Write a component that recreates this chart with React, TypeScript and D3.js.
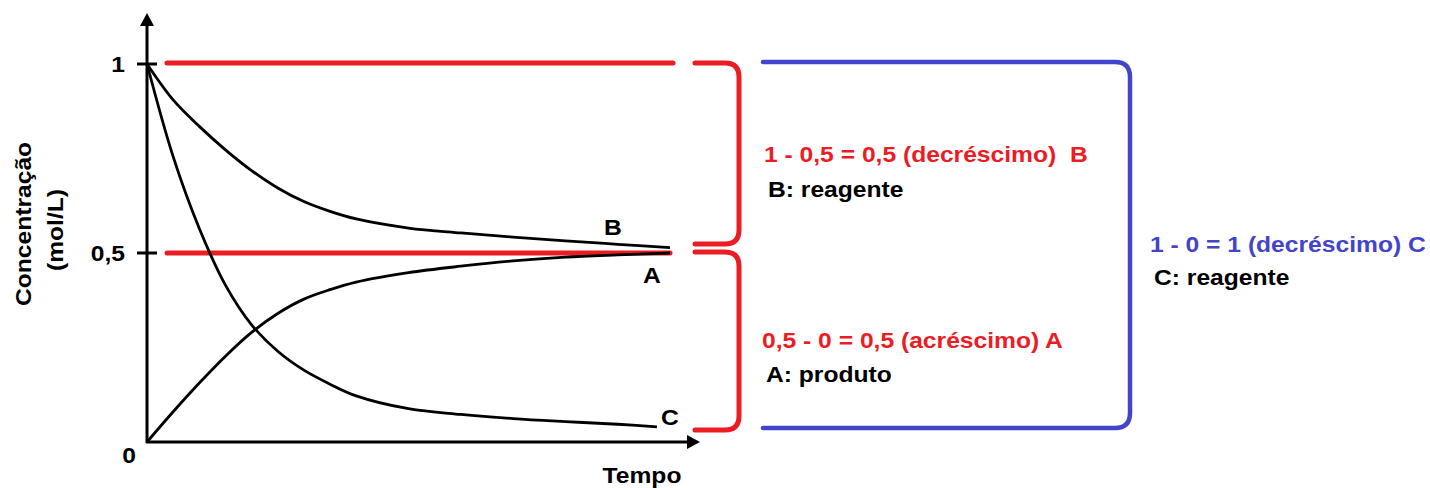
import React, { useEffect, useRef } from "react";
import * as d3 from "d3";

// leitura aproximada do gráfico (tempo em unidades arbitrárias)
const tempo = [0, 0.5, 1, 1.5, 2, 2.5, 3, 3.5, 4, 5, 6, 7, 8, 9, 10];
const concB = [1, 0.905, 0.835, 0.773, 0.718, 0.672, 0.636, 0.61, 0.59, 0.566, 0.553, 0.542, 0.532, 0.523, 0.514];
const concA = [0, 0.08, 0.156, 0.227, 0.29, 0.34, 0.378, 0.403, 0.423, 0.448, 0.465, 0.479, 0.489, 0.495, 0.5];
const tempoC = [0, 0.5, 1, 1.5, 2, 2.5, 3, 3.5, 4, 5, 6, 7, 8, 9, 9.75];
const concC = [1, 0.755, 0.565, 0.415, 0.31, 0.24, 0.19, 0.153, 0.122, 0.088, 0.073, 0.062, 0.054, 0.047, 0.04];
const yTicks = [0, 0.5, 1];
const yTickLabels = ["0", "0,5", "1"];

const RED = "#ec1c24";
const BLUE = "#4343cc";
const FONT = "'Liberation Sans', Arial, sans-serif";
const SX = 1.12; // o texto original é ligeiramente esticado na horizontal

export default function App() {
  const svgRef = useRef<SVGSVGElement | null>(null);

  useEffect(() => {
    const svg = d3.select(svgRef.current);
    svg.selectAll("*").remove();

    const x = d3.scaleLinear().domain([0, 10]).range([147, 670]);
    const y = d3.scaleLinear().domain([0, 1]).range([442, 64]);

    const line = d3
      .line<[number, number]>()
      .x((d) => x(d[0]))
      .y((d) => y(d[1]))
      .curve(d3.curveCatmullRom.alpha(0.5));

    const text = (
      str: string,
      tx: number,
      ty: number,
      color = "#000",
      anchor = "start",
      rotate = 0
    ) =>
      svg
        .append("text")
        .attr("transform", `translate(${tx},${ty}) rotate(${rotate}) scale(${SX},1)`)
        .attr("text-anchor", anchor)
        .attr("font-family", FONT)
        .attr("font-weight", "bold")
        .attr("font-size", 22)
        .attr("fill", color)
        .style("white-space", "pre")
        .text(str);

    // linhas vermelhas de referência
    svg.append("line")
      .attr("x1", 167).attr("x2", 673)
      .attr("y1", y(1) - 1).attr("y2", y(1) - 1)
      .attr("stroke", RED).attr("stroke-width", 5).attr("stroke-linecap", "round");
    svg.append("line")
      .attr("x1", 167).attr("x2", 670)
      .attr("y1", y(0.5)).attr("y2", y(0.5))
      .attr("stroke", RED).attr("stroke-width", 5).attr("stroke-linecap", "round");

    // curvas
    const series: [number[], number[]][] = [
      [tempo, concB],
      [tempo, concA],
      [tempoC, concC],
    ];
    series.forEach(([ts, vs]) => {
      svg.append("path")
        .attr("d", line(ts.map((t, i) => [t, vs[i]] as [number, number])))
        .attr("fill", "none")
        .attr("stroke", "#000")
        .attr("stroke-width", 2.8);
    });

    // eixos
    const x0 = x(0), yb = y(0);
    svg.append("line").attr("x1", x0).attr("x2", x0).attr("y1", yb + 1).attr("y2", 24)
      .attr("stroke", "#000").attr("stroke-width", 3);
    svg.append("line").attr("x1", x0 - 1).attr("x2", 690).attr("y1", yb).attr("y2", yb)
      .attr("stroke", "#000").attr("stroke-width", 3);
    svg.append("path")
      .attr("d", `M${x0},13 L${x0 - 7},26 L${x0 + 7},26 Z`)
      .attr("fill", "#000");
    svg.append("path")
      .attr("d", `M700,${yb} L687,${yb - 7} L687,${yb + 7} Z`)
      .attr("fill", "#000");

    yTicks.forEach((v, i) => {
      if (v > 0) {
        svg.append("line")
          .attr("x1", x0 - 10).attr("x2", x0 + 10)
          .attr("y1", y(v)).attr("y2", y(v))
          .attr("stroke", "#000").attr("stroke-width", 3);
        text(yTickLabels[i], 125, y(v) + 8, "#000", "end");
      } else {
        text(yTickLabels[i], 129, yb + 21, "#000", "middle");
      }
    });

    text("Concentração", 31, 224, "#000", "middle", -90);
    text("(mol/L)", 63, 230, "#000", "middle", -90);
    text("Tempo", 642, 483, "#000", "middle");

    text("B", 613, 235, "#000", "middle");
    text("A", 652, 283, "#000", "middle");
    text("C", 670, 425, "#000", "middle");

    // chaves
    const bracket = (xs: number, xv: number, top: number, bot: number, r: number) =>
      `M${xs},${top} H${xv - r} Q${xv},${top} ${xv},${top + r} V${bot - r} Q${xv},${bot} ${xv - r},${bot} H${xs}`;

    svg.append("path")
      .attr("d", bracket(695, 739, y(1) - 1, y(0.5) - 9, 14))
      .attr("fill", "none").attr("stroke", RED).attr("stroke-width", 5).attr("stroke-linecap", "round");
    svg.append("path")
      .attr("d", bracket(695, 739, y(0.5) - 1, y(0) - 12, 14))
      .attr("fill", "none").attr("stroke", RED).attr("stroke-width", 5).attr("stroke-linecap", "round");
    svg.append("path")
      .attr("d", bracket(763, 1130, y(1) - 2, y(0) - 14, 15))
      .attr("fill", "none").attr("stroke", BLUE).attr("stroke-width", 4.5).attr("stroke-linecap", "round");

    text("1 - 0,5 = 0,5 (decréscimo)  B", 764, 162, RED);
    text("B: reagente", 768, 197);
    text("0,5 - 0 = 0,5 (acréscimo) A", 762, 348, RED);
    text("A: produto", 766, 382);
    text("1 - 0 = 1 (decréscimo) C", 1150, 252, BLUE);
    text("C: reagente", 1154, 285);
  }, []);

  return (
    <svg
      ref={svgRef}
      width={1430}
      height={488}
      style={{ position: "absolute", left: 0, top: 0, background: "#fff" }}
    />
  );
}
